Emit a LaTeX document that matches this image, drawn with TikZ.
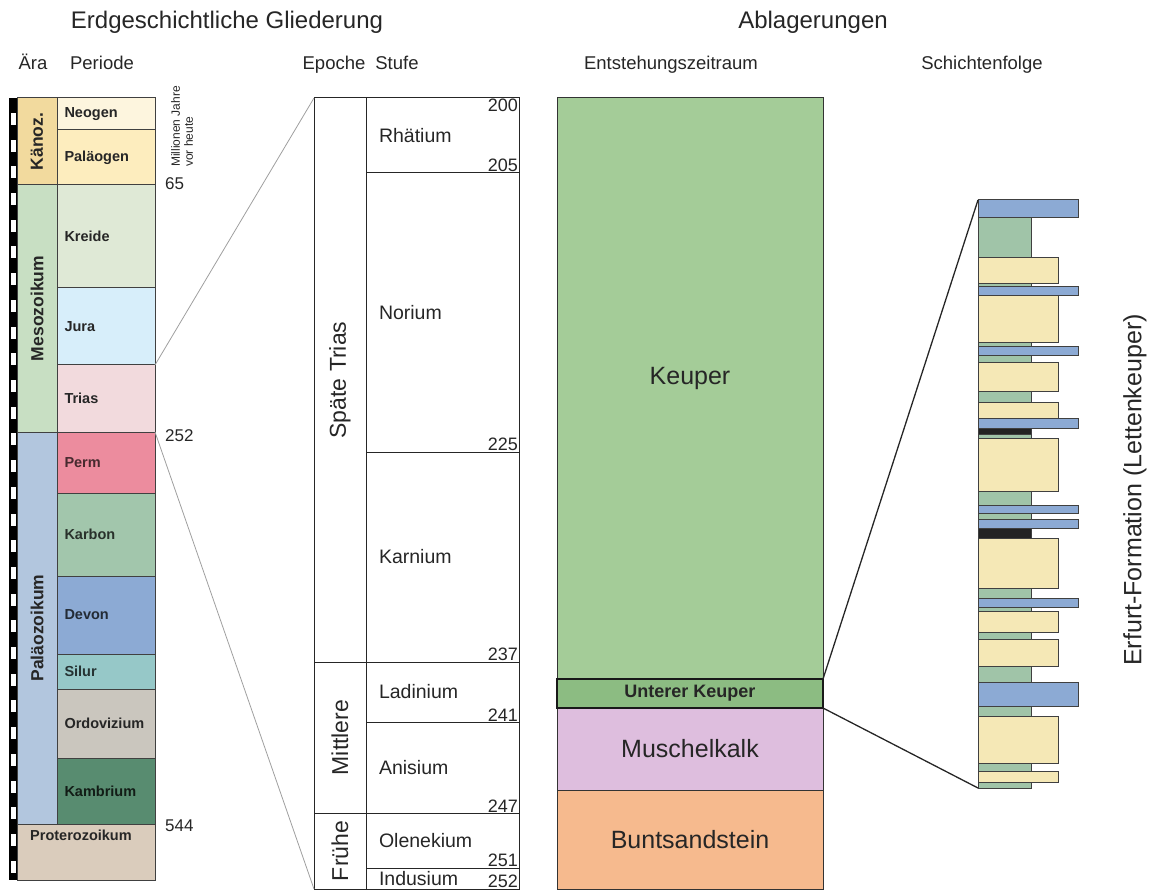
\documentclass[tikz,border=0pt]{standalone}
\usepackage{fontspec}
\setmainfont{Liberation Sans}
\usetikzlibrary{positioning}

\definecolor{kaenoz}{RGB}{242,218,158}
\definecolor{mesoz}{RGB}{200,223,195}
\definecolor{palaeoz}{RGB}{178,198,222}
\definecolor{neogen}{RGB}{253,245,222}
\definecolor{palaeogen}{RGB}{253,237,190}
\definecolor{kreide}{RGB}{223,233,214}
\definecolor{jura}{RGB}{215,238,250}
\definecolor{trias}{RGB}{242,218,221}
\definecolor{perm}{RGB}{236,140,158}
\definecolor{karbon}{RGB}{162,198,172}
\definecolor{devon}{RGB}{140,170,212}
\definecolor{silur}{RGB}{150,200,200}
\definecolor{ordovizium}{RGB}{202,198,190}
\definecolor{kambrium}{RGB}{88,140,112}
\definecolor{protero}{RGB}{218,204,188}
\definecolor{keuper}{RGB}{164,204,152}
\definecolor{unterkeuper}{RGB}{140,188,130}
\definecolor{muschelkalk}{RGB}{222,190,222}
\definecolor{bunt}{RGB}{246,186,142}
\definecolor{tonstein}{RGB}{160,196,168}
\definecolor{sandstein}{RGB}{245,232,182}
\definecolor{dolomit}{RGB}{140,170,212}
\definecolor{kohle}{RGB}{35,35,35}

\begin{document}
\begin{tikzpicture}[x=1pt, y=-1pt, font=\fontsize{18}{20}\selectfont,
  head/.style={font=\fontsize{24}{27}\selectfont, text=black!85},
  subhead/.style={anchor=base, font=\fontsize{18.5}{21}\selectfont, text=black!85},
  cell/.style={draw=black!75, line width=1pt, inner sep=0pt, outer sep=0pt, anchor=north west, minimum width=98pt, text width=83pt, align=left, text=black!85, font=\bfseries\fontsize{14.5}{16}\selectfont},
  era/.style={draw=black!75, line width=1pt, inner sep=0pt, outer sep=0pt, rotate=90, minimum height=40pt, text=black!85, font=\bfseries\fontsize{17.5}{19}\selectfont},
  stage/.style={draw=black!85, line width=1pt, inner sep=0pt, outer sep=0pt, anchor=north west, minimum width=153pt, text width=127pt, align=left, text=black!85, font=\fontsize{19.5}{22}\selectfont},
  epoch/.style={draw=black!85, line width=1pt, inner sep=0pt, outer sep=0pt, rotate=90, minimum height=52pt, text=black!85, font=\fontsize{23}{26}\selectfont},
  age/.style={inner sep=0.8pt, text=black!85, font=\fontsize{18}{20}\selectfont},
  mya/.style={anchor=west, inner sep=0pt, text=black!85, font=\fontsize{17}{20}\selectfont},
  unit/.style={draw=black!80, line width=1pt, inner sep=0pt, outer sep=0pt, anchor=north west, minimum width=266pt, text=black!85, font=\fontsize{25}{28}\selectfont},
  layer/.style={draw=black!75, line width=1pt, inner sep=0pt, outer sep=0pt, anchor=north west},
  clay/.style={fill=tonstein, minimum width=53pt},
  sand/.style={fill=sandstein, minimum width=80pt},
  dolo/.style={fill=dolomit, minimum width=100pt},
  coal/.style={fill=kohle, minimum width=53pt},
  zoomline/.style={draw=gray!75, line width=0.8pt},
  detail/.style={draw=black!85, line width=1.3pt}]

\useasboundingbox (0,0) rectangle (1157,893);

% headings
\node[head] (gliederung) at (227,22) {Erdgeschichtliche Gliederung};
\node[head] (ablagerungen) at (813,22) {Ablagerungen};
\node[subhead] (aera) at (33,70) {Ära};
\node[subhead] (periode) at (102,70) {Periode};
\node[subhead] (epoche) at (334,70) {Epoche};
\node[subhead] (stufe) at (397,70) {Stufe};
\node[subhead] (zeitraum) at (671,70) {Entstehungszeitraum};
\node[subhead] (schichten) at (982,70) {Schichtenfolge};

% time ruler
\fill[black] (9,98) rectangle (17,880);
\foreach \k in {0,...,28}
  \fill[white] (11,113+26.7*\k) rectangle (16,125+26.7*\k);

% eras
\node[era, fill=kaenoz, minimum width=87pt] (kaenozoikum) at (37,141.5) {Känoz.};
\node[era, fill=mesoz, minimum width=247pt] (mesozoikum) at (37,308.5) {Mesozoikum};
\node[era, fill=palaeoz, minimum width=392pt] (palaeozoikum) at (37,628) {Paläozoikum};

% periods
\node[cell, fill=neogen, minimum height=32pt] (neogen) at (57,98) {Neogen};
\node[cell, fill=palaeogen, minimum height=55pt] (palaeogen) at (57,130) {Paläogen};
\node[cell, fill=kreide, minimum height=103pt] (kreide) at (57,185) {Kreide};
\node[cell, fill=jura, minimum height=77pt] (jura) at (57,288) {Jura};
\node[cell, fill=trias, minimum height=67pt] (trias) at (57,365) {Trias};
\node[cell, fill=perm, minimum height=61pt, text=perm!30!black] (perm) at (57,432) {Perm};
\node[cell, fill=karbon, minimum height=83pt, text=karbon!25!black] (karbon) at (57,493) {Karbon};
\node[cell, fill=devon, minimum height=78pt, text=devon!25!black] (devon) at (57,576) {Devon};
\node[cell, fill=silur, minimum height=35pt, text=silur!25!black] (silur) at (57,654) {Silur};
\node[cell, fill=ordovizium, minimum height=69pt] (ordovizium) at (57,689) {Ordovizium};
\node[cell, fill=kambrium, minimum height=66pt, text=kambrium!20!black] (kambrium) at (57,758) {Kambrium};
\node[cell, fill=protero, minimum width=138pt, minimum height=56pt] (proterozoikum) at (17,824) {};
\node[anchor=north west, inner sep=0pt, text=black!85, font=\bfseries\fontsize{14.5}{16}\selectfont] (proterolabel) at (30,830) {Proterozoikum};

% million years
\node[rotate=90, anchor=west, align=left, inner sep=0pt, text=black!85, font=\fontsize{12}{13}\selectfont] (mjvh) at (182,167) {Millionen Jahre\\vor heute};
\node[mya] (m65) at (165,184) {65};
\node[mya] (m252) at (165,436) {252};
\node[mya] (m544) at (165,826) {544};

% epochs and stages of the Trias
\node[epoch, minimum width=564pt] (spaete) at (340,380) {Späte Trias};
\node[epoch, minimum width=151pt] (mittlere) at (340,737.5) {Mittlere};
\node[epoch, minimum width=76pt] (fruehe) at (340,851) {Frühe};
\node[stage, minimum height=75pt] (rhaetium) at (366,98) {Rhätium};
\node[stage, minimum height=279pt] (norium) at (366,173) {Norium};
\node[stage, minimum height=210pt] (karnium) at (366,452) {Karnium};
\node[stage, minimum height=60pt] (ladinium) at (366,662) {Ladinium};
\node[stage, minimum height=91pt] (anisium) at (366,722) {Anisium};
\node[stage, minimum height=55pt] (olenekium) at (366,813) {Olenekium};
\node[stage, minimum height=21pt] (indusium) at (366,868) {Indusium};
\node[age, anchor=north east] (a200) at (rhaetium.north east) {200};
\node[age, anchor=south east] (a205) at (rhaetium.south east) {205};
\node[age, anchor=south east] (a225) at (norium.south east) {225};
\node[age, anchor=south east] (a237) at (karnium.south east) {237};
\node[age, anchor=south east] (a241) at (ladinium.south east) {241};
\node[age, anchor=south east] (a247) at (anisium.south east) {247};
\node[age, anchor=south east] (a251) at (olenekium.south east) {251};
\node[age, anchor=south east] (a252) at (indusium.south east) {252};

\draw[zoomline] (jura.south east) -- (spaete.north east);
\draw[zoomline] (perm.north east) -- (fruehe.north west);

% deposits
\node[unit, fill=keuper, minimum height=581pt] (keuper) at (557,98) {};
\node[text=black!85, font=\fontsize{25}{28}\selectfont] (keuperlabel) at (690,378) {Keuper};
\node[unit, fill=muschelkalk, minimum height=82pt] (muschelkalk) at (557,708) {Muschelkalk};
\node[unit, fill=bunt, minimum height=99pt] (buntsandstein) at (557,790) {Buntsandstein};
\node[unit, fill=unterkeuper, draw=black!90, line width=2.5pt, minimum height=29pt, font=\bfseries\fontsize{18}{20}\selectfont] (unterer) at (557,679) {Unterer Keuper};

% Erfurt-Formation
\foreach \ya/\yb/\kind in {200/218/dolo, 218/258/clay, 258/284/sand, 284/287/clay,
    287/296/dolo, 296/343/sand, 343/347/clay, 347/356/dolo, 356/363/clay,
    363/391/sand, 391/402/clay, 402/418/sand, 418/428/dolo, 428/434/coal,
    434/438/clay, 438/491/sand, 491/505/clay, 505/513/dolo, 513/519/clay,
    519/528/dolo, 528/538/coal, 538/588/sand, 588/598/clay, 598/607/dolo,
    607/611/clay, 611/632/sand, 632/639/clay, 639/666/sand, 666/682/clay,
    682/706/dolo, 706/716/clay, 716/763/sand, 763/771/clay, 771/782/sand,
    782/788/clay}
  \node[layer, \kind, minimum height={(\yb-\ya)*1pt}] (l\ya) at (978,\ya) {};

\draw[detail] (unterer.north east) -- (l200.north west);
\draw[detail] (unterer.south east) -- (l782.south west);

\node[rotate=90, text=black!85, font=\fontsize{25}{28}\selectfont] (erfurt) at (1135,490) {Erfurt-Formation (Lettenkeuper)};

\end{tikzpicture}
\end{document}
